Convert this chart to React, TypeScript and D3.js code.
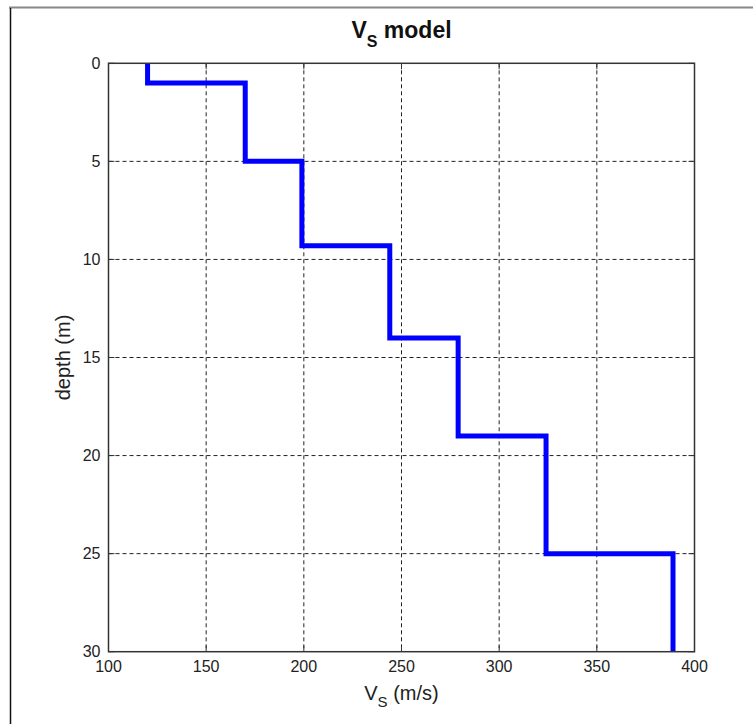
import React, { useEffect, useRef } from 'react'
import * as d3 from 'd3'

// layer model: top / bottom depth (m) and shear wave velocity (m/s)
const layerTop = [0, 1, 5, 9.3, 14, 19, 25]
const layerBottom = [1, 5, 9.3, 14, 19, 25, 30]
const vsValues = [120, 170, 199, 244, 279, 324, 389]

const xTicks = [100, 150, 200, 250, 300, 350, 400]
const yTicks = [0, 5, 10, 15, 20, 25, 30]

function App() {
  const ref = useRef<SVGSVGElement>(null)

  useEffect(() => {
    const W = 753
    const H = 724
    const margin = { top: 63.3, right: 58.5, bottom: 72.3, left: 108.5 }
    const width = W - margin.left - margin.right
    const height = H - margin.top - margin.bottom
    const font = 'Arial, "Liberation Sans", sans-serif'

    const root = d3.select(ref.current)
    root.selectAll('*').remove()

    root.append('rect').attr('width', W).attr('height', H).attr('fill', '#fff')
    // figure frame
    root
      .append('line')
      .attr('x1', 9)
      .attr('x2', W)
      .attr('y1', 7.5)
      .attr('y2', 7.5)
      .attr('stroke', '#888')
      .attr('stroke-width', 2)
    root
      .append('line')
      .attr('x1', 10.5)
      .attr('x2', 10.5)
      .attr('y1', 8)
      .attr('y2', H)
      .attr('stroke', '#111')
      .attr('stroke-width', 1.5)

    const svg = root.append('g').attr('transform', `translate(${margin.left},${margin.top})`)

    const xScale = d3.scaleLinear().domain([100, 400]).range([0, width])
    const yScale = d3.scaleLinear().domain([0, 30]).range([0, height])

    // grid
    svg
      .selectAll('.vgrid')
      .data(xTicks.slice(1, -1))
      .enter()
      .append('line')
      .attr('x1', (d) => xScale(d))
      .attr('x2', (d) => xScale(d))
      .attr('y1', 0)
      .attr('y2', height)
      .attr('stroke', '#222')
      .attr('stroke-width', 1)
      .attr('stroke-dasharray', '4,3')
    svg
      .selectAll('.hgrid')
      .data(yTicks.slice(1, -1))
      .enter()
      .append('line')
      .attr('x1', 0)
      .attr('x2', width)
      .attr('y1', (d) => yScale(d))
      .attr('y2', (d) => yScale(d))
      .attr('stroke', '#222')
      .attr('stroke-width', 1)
      .attr('stroke-dasharray', '4,3')

    // inside ticks on all four sides
    const tl = 6
    xTicks.forEach((t) => {
      const x = xScale(t)
      svg.append('line').attr('x1', x).attr('x2', x).attr('y1', height).attr('y2', height - tl).attr('stroke', '#333')
      svg.append('line').attr('x1', x).attr('x2', x).attr('y1', 0).attr('y2', tl).attr('stroke', '#333')
    })
    yTicks.forEach((t) => {
      const y = yScale(t)
      svg.append('line').attr('x1', 0).attr('x2', tl).attr('y1', y).attr('y2', y).attr('stroke', '#333')
      svg.append('line').attr('x1', width).attr('x2', width - tl).attr('y1', y).attr('y2', y).attr('stroke', '#333')
    })

    // step line
    const pts: [number, number][] = []
    vsValues.forEach((v, i) => {
      pts.push([v, layerTop[i]])
      pts.push([v, layerBottom[i]])
    })
    const line = d3
      .line<[number, number]>()
      .x((d) => xScale(d[0]))
      .y((d) => yScale(d[1]))
    svg
      .append('path')
      .datum(pts)
      .attr('d', line)
      .attr('fill', 'none')
      .attr('stroke', '#0000ff')
      .attr('stroke-width', 5)
      .attr('stroke-linejoin', 'miter')

    // box
    svg
      .append('rect')
      .attr('width', width)
      .attr('height', height)
      .attr('fill', 'none')
      .attr('stroke', '#333')
      .attr('stroke-width', 1.5)

    // tick labels
    svg
      .selectAll('.xlab')
      .data(xTicks)
      .enter()
      .append('text')
      .attr('x', (d) => xScale(d))
      .attr('y', height + 20)
      .attr('text-anchor', 'middle')
      .attr('font-family', font)
      .attr('font-size', 16)
      .attr('fill', '#222')
      .text((d) => d)
    svg
      .selectAll('.ylab')
      .data(yTicks)
      .enter()
      .append('text')
      .attr('x', -8)
      .attr('y', (d) => yScale(d) + 5.5)
      .attr('text-anchor', 'end')
      .attr('font-family', font)
      .attr('font-size', 16)
      .attr('fill', '#222')
      .text((d) => d)

    // axis labels
    const xl = svg
      .append('text')
      .attr('x', width / 2)
      .attr('y', height + 48)
      .attr('text-anchor', 'middle')
      .attr('font-family', font)
      .attr('font-size', 20)
      .attr('fill', '#222')
    xl.append('tspan').text('V')
    xl.append('tspan').attr('font-size', 15).attr('dy', 7).text('S')
    xl.append('tspan').attr('dy', -7).text(' (m/s)')

    svg
      .append('text')
      .attr('transform', `translate(${-39},${height / 2}) rotate(-90)`)
      .attr('text-anchor', 'middle')
      .attr('font-family', font)
      .attr('font-size', 20)
      .attr('fill', '#222')
      .text('depth (m)')

    // title
    const title = svg
      .append('text')
      .attr('x', width / 2)
      .attr('y', -25)
      .attr('text-anchor', 'middle')
      .attr('font-family', font)
      .attr('font-size', 23)
      .attr('font-weight', 'bold')
      .attr('fill', '#111')
    title.append('tspan').text('V')
    title.append('tspan').attr('font-size', 16).attr('dy', 9).text('S')
    title.append('tspan').attr('dy', -9).text(' model')
  }, [])

  return (
    <svg
      ref={ref}
      width={753}
      height={724}
      style={{ position: 'absolute', left: 0, top: 0 }}
    />
  )
}

export default App
